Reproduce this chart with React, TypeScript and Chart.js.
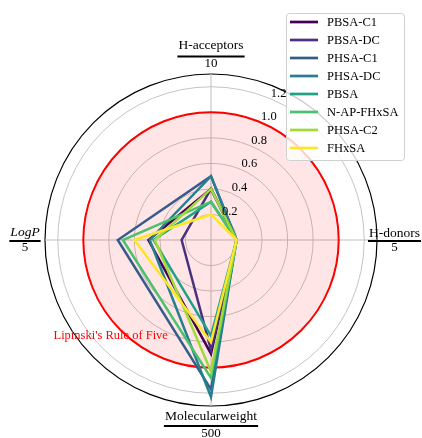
import React, { useEffect, useRef } from "react";
import { Chart, registerables } from "chart.js";

Chart.register(...registerables);

const axisLabels = ["H-acceptors", "H-donors", "Molecularweight", "LogP"];
const axisDenominators = ["10", "5", "500", "5"];
const tickValues = [0.2, 0.4, 0.6, 0.8, 1.0, 1.2];
const seriesNames = ["PBSA-C1", "PBSA-DC", "PHSA-C1", "PHSA-DC", "PBSA", "N-AP-FHxSA", "PHSA-C2", "FHxSA"];
const seriesColors = ["#440154", "#46327e", "#365c8d", "#277f8e", "#1fa187", "#4ac16d", "#a0da39", "#fde725"];
const pbsaC1 = [0.4, 0.2, 0.89, 0.49];
const pbsaDC = [0.4, 0.2, 0.86, 0.23];
const phsaC1 = [0.5, 0.2, 1.17, 0.73];
const phsaDC = [0.5, 0.2, 1.23, 0.48];
const pbsa = [0.3, 0.2, 0.75, 0.45];
const nApFhxsa = [0.3, 0.2, 1.08, 0.69];
const phsaC2 = [0.4, 0.2, 1.03, 0.44];
const fhxsa = [0.2, 0.2, 0.8, 0.6];
const seriesValues = [pbsaC1, pbsaDC, phsaC1, phsaDC, pbsa, nApFhxsa, phsaC2, fhxsa];
const ruleValue = 1.0;
const ruleLabel = "Lipinski's Rule of Five";
const rMax = 1.3;

const SERIF = "'Liberation Serif', 'Times New Roman', serif";

const overlayPlugin = {
  id: "overlay",
  beforeDatasetsDraw(chart: any) {
    const ctx = chart.ctx;
    const s = chart.scales.r;
    const r = s.getDistanceFromCenterForValue(ruleValue);
    ctx.save();
    ctx.beginPath();
    ctx.arc(s.xCenter, s.yCenter, r, 0, Math.PI * 2);
    ctx.fillStyle = "rgba(255,0,0,0.1)";
    ctx.fill();
    ctx.lineWidth = 2;
    ctx.strokeStyle = "#ff0000";
    ctx.stroke();
    ctx.restore();
  },
  afterDraw(chart: any) {
    const ctx = chart.ctx;
    const s = chart.scales.r;
    ctx.save();
    // radial tick labels
    ctx.font = `12.5px ${SERIF}`;
    ctx.fillStyle = "#000";
    ctx.textAlign = "center";
    ctx.textBaseline = "middle";
    const a = (22.5 * Math.PI) / 180;
    tickValues.forEach((v) => {
      const d = s.getDistanceFromCenterForValue(v);
      const x = s.xCenter + d * Math.sin(a) + 9;
      const y = s.yCenter - d * Math.cos(a) - 5;
      ctx.fillText(v.toFixed(1), x, y);
    });
    // axis labels as fractions
    const offsets = [
      { dx: 0, ny: -29, by: -17.5, vy: -10 },
      { dx: 17.5, ny: -7, by: 1, vy: 8 },
      { dx: 0, ny: 10, by: 20, vy: 28 },
      { dx: -20, ny: -8, by: 1, vy: 8 },
    ];
    axisLabels.forEach((lab, i) => {
      const p = s.getPointPosition(i, s.drawingArea);
      const o = offsets[i];
      const cx = p.x + o.dx;
      ctx.font = i === 3 ? `italic 13.5px ${SERIF}` : `13.5px ${SERIF}`;
      const w = ctx.measureText(lab).width;
      ctx.fillText(lab, cx, p.y + o.ny);
      ctx.fillRect(cx - w / 2 - 1, p.y + o.by - 1, w + 2, 2);
      ctx.font = `13px ${SERIF}`;
      ctx.fillText(axisDenominators[i], cx, p.y + o.vy);
    });
    // rule label
    const rp = s.getPointPosition(3, s.getDistanceFromCenterForValue(ruleValue), -Math.PI / 4);
    ctx.font = `12.5px ${SERIF}`;
    ctx.fillStyle = "#ff0000";
    ctx.fillText(ruleLabel, rp.x - 10, rp.y + 5);
    // legend
    const lx = 286.5, ly = 13.5, lw = 118, lh = 147;
    ctx.beginPath();
    const rr = 3;
    ctx.moveTo(lx + rr, ly);
    ctx.arcTo(lx + lw, ly, lx + lw, ly + lh, rr);
    ctx.arcTo(lx + lw, ly + lh, lx, ly + lh, rr);
    ctx.arcTo(lx, ly + lh, lx, ly, rr);
    ctx.arcTo(lx, ly, lx + lw, ly, rr);
    ctx.closePath();
    ctx.fillStyle = "rgba(255,255,255,0.8)";
    ctx.fill();
    ctx.strokeStyle = "#d0d0d0";
    ctx.lineWidth = 1;
    ctx.stroke();
    ctx.textAlign = "left";
    ctx.font = `12.5px ${SERIF}`;
    seriesNames.forEach((n, i) => {
      const y = 22 + i * 18;
      ctx.strokeStyle = seriesColors[i];
      ctx.lineWidth = 2.7;
      ctx.beginPath();
      ctx.moveTo(290, y);
      ctx.lineTo(318, y);
      ctx.stroke();
      ctx.fillStyle = "#000";
      ctx.fillText(n, 327, y + 1);
    });
    ctx.restore();
  },
};

export default function App() {
  const ref = useRef<HTMLCanvasElement>(null);
  useEffect(() => {
    if (!ref.current) return;
    const chart = new Chart(ref.current, {
      type: "radar",
      data: {
        labels: axisLabels,
        datasets: seriesNames.map((n, i) => ({
          label: n,
          data: seriesValues[i],
          borderColor: seriesColors[i],
          backgroundColor: "transparent",
          borderWidth: 2.5,
          pointRadius: 0,
          fill: false,
          tension: 0,
          order: seriesNames.length - i,
        })),
      },
      options: {
        responsive: false,
        animation: false,
        layout: { padding: { left: 45, right: 45, top: 74, bottom: 32 } },
        plugins: { legend: { display: false }, tooltip: { enabled: false } },
        scales: {
          r: {
            min: 0,
            max: rMax,
            startAngle: 0,
            afterBuildTicks: (scale: any) => {
              scale.ticks = [0, ...tickValues, rMax].map((v) => ({ value: v }));
            },
            ticks: { display: false },
            pointLabels: { display: false },
            angleLines: { color: "#bdbdbd", lineWidth: 1 },
            grid: {
              circular: true,
              color: (c: any) => (c.tick && c.tick.value >= rMax - 0.001 ? "#000000" : "#c4c4c4"),
              lineWidth: (c: any) => (c.tick && c.tick.value >= rMax - 0.001 ? 1.2 : 1),
            },
          },
        },
      },
      plugins: [overlayPlugin],
    } as any);
    return () => chart.destroy();
  }, []);
  return (
    <div style={{ position: "absolute", left: 0, top: 0, width: 422, height: 438 }}>
      <canvas ref={ref} width={422} height={438} style={{ display: "block" }} />
    </div>
  );
}
